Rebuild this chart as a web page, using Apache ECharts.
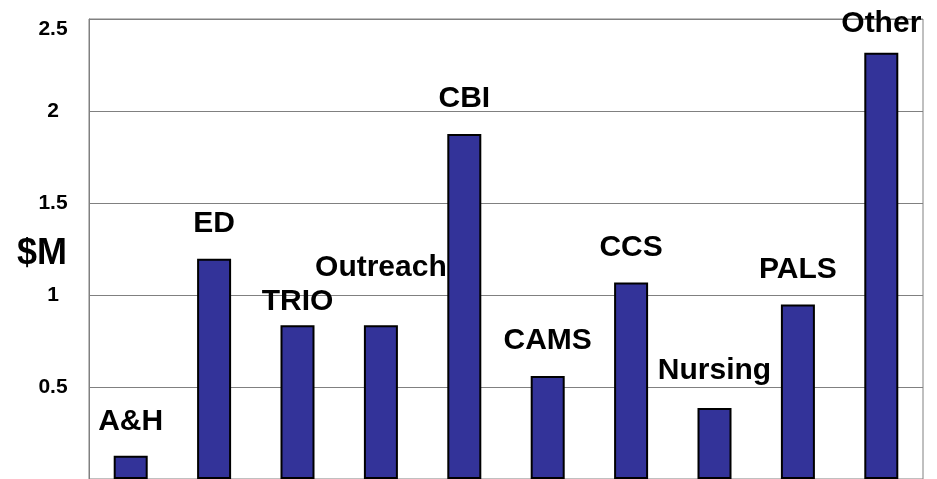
<!DOCTYPE html>
<html>
<head>
<meta charset="utf-8">
<style>
  html, body { margin: 0; padding: 0; background: #fff; }
  #chart { width: 937px; height: 479px; }
</style>
<script src="https://cdn.jsdelivr.net/npm/echarts@6/dist/echarts.min.js"></script>
</head>
<body>
<div id="chart"></div>
<script>
  // programme names and funding ($M)
  var categories = ['A&H', 'ED', 'TRIO', 'Outreach', 'CBI', 'CAMS', 'CCS', 'Nursing', 'PALS', 'Other'];
  var values = [0.127, 1.197, 0.835, 0.835, 1.875, 0.56, 1.068, 0.386, 0.948, 2.317];
  var yTicks = [0.5, 1, 1.5, 2, 2.5];

  // how far each name sits above its bar (px)
  var labelGap = [19, 20, 9, 43, 20, 20, 20, 22, 20, 14];

  var font = '"Liberation Sans", Arial, sans-serif';
  var chart = echarts.init(document.getElementById('chart'));

  chart.setOption({
    animation: false,
    grid: {
      left: 89,
      right: 14,
      top: 19,
      height: 462,
      show: true,
      borderColor: '#808080',
      borderWidth: 1
    },
    xAxis: {
      type: 'category',
      data: categories,
      axisLine: { show: false },
      axisTick: { show: false },
      axisLabel: { show: false }
    },
    yAxis: {
      type: 'value',
      min: 0,
      max: 2.5,
      interval: 0.5,
      axisLine: { show: true, lineStyle: { color: '#808080', width: 1 } },
      axisTick: { show: false },
      splitLine: { lineStyle: { color: '#808080', width: 1 } },
      axisLabel: {
        margin: 36,
        align: 'center',
        fontFamily: font,
        fontWeight: 'bold',
        fontSize: 21,
        color: '#000',
        formatter: function (v) {
          if (yTicks.indexOf(v) < 0) return '';
          // top label is pushed down inside the frame
          return v === 2.5 ? '{low|' + v + '}' : String(v);
        },
        rich: {
          low: {
            fontFamily: font,
            fontWeight: 'bold',
            fontSize: 21,
            color: '#000',
            padding: [20, 0, 0, 0]
          }
        }
      }
    },
    graphic: [{
      type: 'text',
      left: 17,
      top: 236,
      style: {
        text: '$M',
        fontFamily: font,
        fontWeight: 'bold',
        fontSize: 36,
        fill: '#000'
      }
    }],
    series: [{
      type: 'bar',
      barWidth: 34,
      data: values.map(function (v, i) {
        return {
          value: v,
          label: { distance: labelGap[i] }
        };
      }),
      itemStyle: {
        color: '#333399',
        borderColor: '#000',
        borderWidth: 2
      },
      label: {
        show: true,
        position: 'top',
        formatter: function (p) { return p.name; },
        fontFamily: font,
        fontWeight: 'bold',
        fontSize: 30,
        color: '#000'
      }
    }]
  });
</script>
</body>
</html>
